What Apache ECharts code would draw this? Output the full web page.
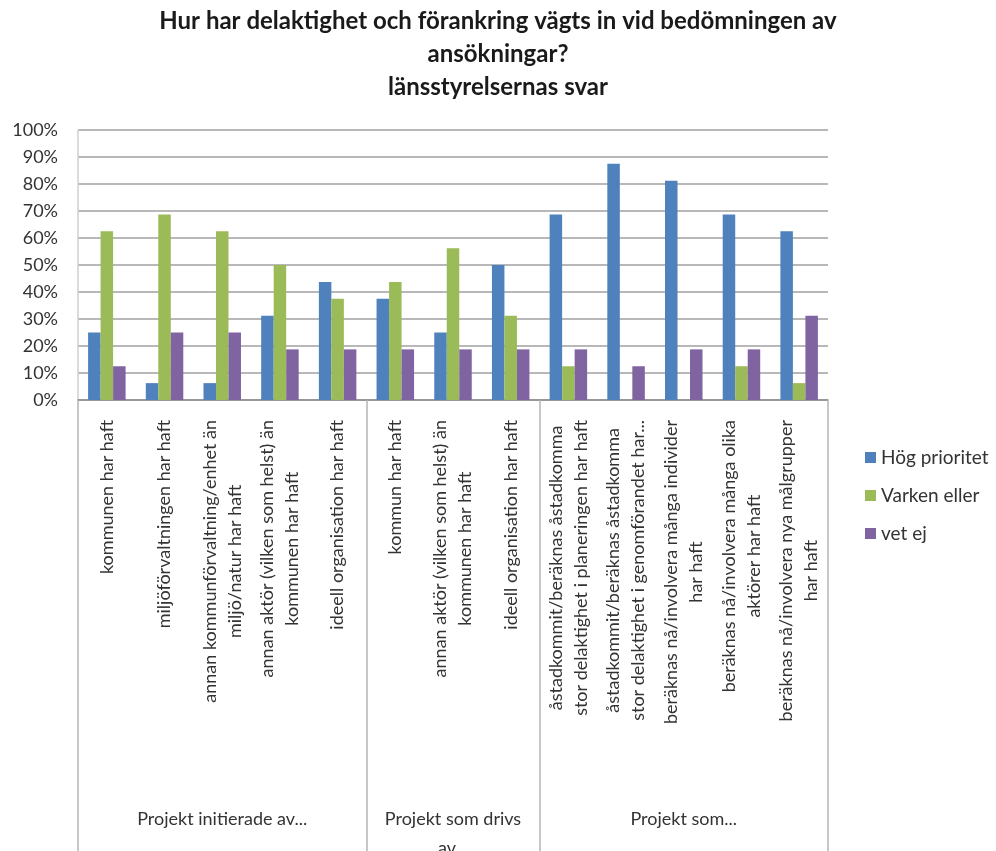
<!DOCTYPE html>
<html>
<head>
<meta charset="utf-8">
<script src="https://cdn.jsdelivr.net/npm/echarts@6/dist/echarts.min.js"></script>
<style>html,body{margin:0;padding:0;background:#fff}#chart{width:996px;height:851px}</style>
</head>
<body>
<div id="chart"></div>
<script>
const titleText = 'Hur har delaktighet och förankring vägts in vid bedömningen av\nansökningar?\nlänsstyrelsernas svar';
const categories = [
  'kommunen har haft',
  'miljöförvaltningen har haft',
  'annan kommunförvaltning/enhet än\nmiljö/natur har haft',
  'annan aktör (vilken som helst) än\nkommunen har haft',
  'ideell organisation har haft',
  'kommun har haft',
  'annan aktör (vilken som helst) än\nkommunen har haft',
  'ideell organisation har haft',
  'åstadkommit/beräknas åstadkomma\nstor delaktighet i planeringen har haft',
  'åstadkommit/beräknas åstadkomma\nstor delaktighet i genomförandet har...',
  'beräknas nå/involvera många individer\nhar haft',
  'beräknas nå/involvera många olika\naktörer har haft',
  'beräknas nå/involvera nya målgrupper\nhar haft'
];
const groupNames = ['Projekt initierade av...', 'Projekt som drivs\nav...', 'Projekt som...'];
const groupSizes = [5, 3, 5];
const seriesNames = ['Hög prioritet', 'Varken eller', 'vet ej'];
const hogPrioritet = [25, 6.25, 6.25, 31.25, 43.75, 37.5, 25, 50, 68.75, 87.5, 81.25, 68.75, 62.5];
const varkenEller  = [62.5, 68.75, 62.5, 50, 37.5, 43.75, 56.25, 31.25, 12.5, 0, 0, 12.5, 6.25];
const vetEj        = [12.5, 25, 25, 18.75, 18.75, 18.75, 18.75, 18.75, 18.75, 12.5, 18.75, 18.75, 31.25];
const yTicks = [0, 10, 20, 30, 40, 50, 60, 70, 80, 90, 100];
const colors = ['#4f81bd', '#9bbb59', '#8064a2'];

// group axis helpers derived from group sizes
const groupAxisData = [];
const groupStarts = new Set();
const groupMiddles = new Set();
let idx = 0;
groupSizes.forEach((n, g) => {
  groupStarts.add(idx);
  groupMiddles.add(idx + Math.floor(n / 2));
  for (let i = 0; i < n; i++) groupAxisData.push(groupNames[g]);
  idx += n;
});

const font = 'Lato, "Liberation Sans", sans-serif';
const chart = echarts.init(document.getElementById('chart'));
chart.setOption({
  animation: false,
  color: colors,
  title: {
    text: titleText,
    left: 'center',
    top: 0,
    textStyle: { fontFamily: font, fontWeight: 'bold', fontSize: 24, lineHeight: 33, color: '#1a1a1a' }
  },
  legend: {
    orient: 'vertical',
    left: 860,
    top: 443,
    itemWidth: 11,
    itemHeight: 11,
    itemGap: 19,
    icon: 'rect',
    textStyle: { fontFamily: font, fontSize: 19, color: '#333' },
    data: seriesNames
  },
  grid: { left: 78, right: 168, top: 130, bottom: 451, containLabel: false, outerBoundsMode: 'none' },
  xAxis: [
    {
      type: 'category',
      data: categories,
      position: 'bottom',
      axisLine: { show: true, lineStyle: { color: '#8c8c8c', width: 1.5 } },
      axisTick: { show: false },
      axisLabel: {
        interval: 0,
        rotate: 90,
        margin: 20,
        formatter: v => v.split('\n').map(s => '{c|' + s + '}').join('\n'),
        rich: { c: { align: 'center', fontFamily: font, fontSize: 18, lineHeight: 25, color: '#333' } }
      }
    },
    {
      type: 'category',
      data: groupAxisData,
      position: 'bottom',
      axisLine: { show: false },
      axisTick: {
        show: true,
        length: 452,
        interval: i => groupStarts.has(i),
        lineStyle: { color: '#b5b5b5', width: 1.5 }
      },
      axisLabel: {
        interval: i => groupMiddles.has(i),
        margin: 405,
        fontFamily: font,
        fontSize: 18,
        lineHeight: 29,
        color: '#333',
        align: 'center'
      }
    }
  ],
  yAxis: {
    type: 'value',
    min: 0,
    max: 100,
    interval: 10,
    axisLine: { show: true, lineStyle: { color: '#d0d0d0', width: 1.5 } },
    axisTick: { show: false },
    splitLine: { lineStyle: { color: '#a0a0a0', width: 1.5 } },
    axisLabel: {
      margin: 20,
      fontFamily: font,
      fontSize: 18,
      color: '#333',
      customValues: yTicks,
      formatter: v => v + '%'
    }
  },
  series: [
    { name: seriesNames[0], type: 'bar', data: hogPrioritet, barGap: '0%', barCategoryGap: '35%', xAxisIndex: 0 },
    { name: seriesNames[1], type: 'bar', data: varkenEller, barGap: '0%', barCategoryGap: '35%', xAxisIndex: 0 },
    { name: seriesNames[2], type: 'bar', data: vetEj, barGap: '0%', barCategoryGap: '35%', xAxisIndex: 0 }
  ]
});
</script>
</body>
</html>
